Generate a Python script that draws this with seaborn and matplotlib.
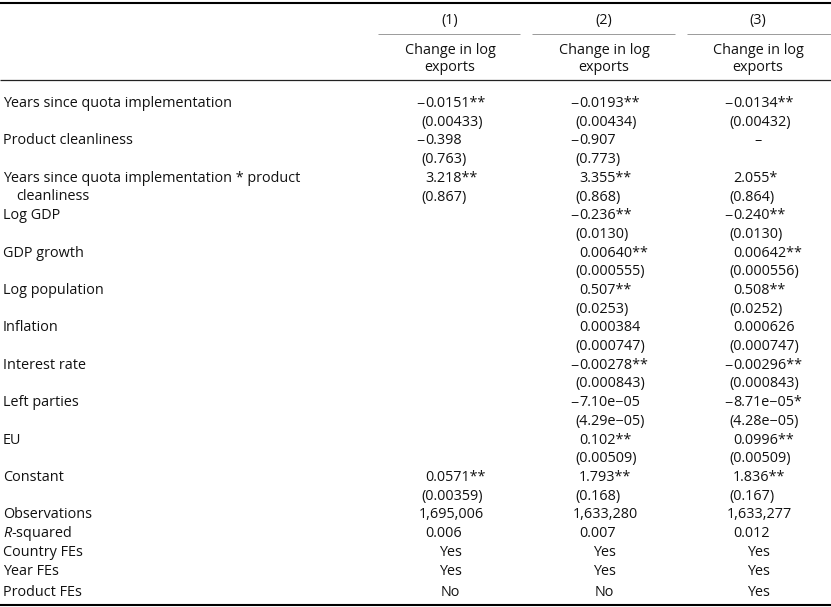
import matplotlib
matplotlib.use("Agg")
import matplotlib.pyplot as plt
import seaborn as sns

sns.set_theme(style="white")
plt.rcParams["font.family"] = ["Open Sans", "DejaVu Sans"]
plt.rcParams["mathtext.fontset"] = "custom"
plt.rcParams["mathtext.rm"] = "Open Sans"
plt.rcParams["mathtext.it"] = "Open Sans:italic"

# ---- table contents ----
model_names = ["(1)", "(2)", "(3)"]
dep_vars = ["Change in log\nexports", "Change in log\nexports", "Change in log\nexports"]

variables = [
    "Years since quota implementation",
    "Product cleanliness",
    "Years since quota implementation * product\ncleanliness",
    "Log GDP",
    "GDP growth",
    "Log population",
    "Inflation",
    "Interest rate",
    "Left parties",
    "EU",
    "Constant",
]
coef_1 = ["−0.0151**", "−0.398", "3.218**", "", "", "", "", "", "", "", "0.0571**"]
se_1 = ["(0.00433)", "(0.763)", "(0.867)", "", "", "", "", "", "", "", "(0.00359)"]
coef_2 = ["−0.0193**", "−0.907", "3.355**", "−0.236**", "0.00640**", "0.507**",
          "0.000384", "−0.00278**", "−7.10e−05", "0.102**", "1.793**"]
se_2 = ["(0.00434)", "(0.773)", "(0.868)", "(0.0130)", "(0.000555)", "(0.0253)",
        "(0.000747)", "(0.000843)", "(4.29e−05)", "(0.00509)", "(0.168)"]
coef_3 = ["−0.0134**", "–", "2.055*", "−0.240**", "0.00642**", "0.508**",
          "0.000626", "−0.00296**", "−8.71e−05*", "0.0996**", "1.836**"]
se_3 = ["(0.00432)", "", "(0.864)", "(0.0130)", "(0.000556)", "(0.0252)",
        "(0.000747)", "(0.000843)", "(4.28e−05)", "(0.00509)", "(0.167)"]

observations = ["1,695,006", "1,633,280", "1,633,277"]
r_squared = ["0.006", "0.007", "0.012"]
fe_labels = ["Country FEs", "Year FEs", "Product FEs"]
country_fe = ["Yes", "Yes", "Yes"]
year_fe = ["Yes", "Yes", "Yes"]
product_fe = ["No", "No", "Yes"]

coefs = [coef_1, coef_2, coef_3]
ses = [se_1, se_2, se_3]

# ---- layout (pixel coordinates) ----
W, H = 831, 607
col_x = [450, 604, 758]
col_span = [(378, 520), (532, 675), (687, 831)]
fs = 10.4
step = 18.7
first_row = 102
base_off = 5.0
ink = "#111111"

fig = plt.figure(figsize=(W / 100, H / 100), dpi=100)
ax = fig.add_axes([0, 0, 1, 1])
ax.set_xlim(0, W)
ax.set_ylim(H, 0)
ax.axis("off")


def put(x, y, s, ha="left"):
    ax.text(x, y + base_off, s, ha=ha, va="baseline", fontsize=fs, color=ink)


def put_num(cx, y, s):
    if s == "":
        return
    if s == "–":
        put(cx, y, s, ha="center")
        return
    if s.startswith("−"):
        put(cx - 25, y, "−", ha="right")
        put(cx - 25, y, s[1:])
    elif s.startswith("("):
        put(cx - 29, y, s)
    else:
        put(cx - 25, y, s)


# rules
ax.hlines(2.5, 0, W, color="black", lw=1.5)
ax.hlines(80, 0, W, color="#222222", lw=0.9)
ax.hlines(605, 0, W, color="black", lw=1.5)
for x0, x1 in col_span:
    ax.hlines(34, x0, x1, color="#9a9a9a", lw=0.7)

# header
for i, cx in enumerate(col_x):
    put(cx, 19, model_names[i], ha="center")
    l1, l2 = dep_vars[i].split("\n")
    put(cx, 49, l1, ha="center")
    put(cx, 66, l2, ha="center")

# coefficient rows
for k, name in enumerate(variables):
    y = first_row + 2 * k * step
    lines = name.split("\n")
    put(3, y, lines[0])
    for j, extra in enumerate(lines[1:], start=1):
        put(16, y + j * step, extra)
    for i, cx in enumerate(col_x):
        put_num(cx, y, coefs[i][k])
        put_num(cx, y + step, ses[i][k])

# statistics rows
y = first_row + 2 * len(variables) * step
put(3, y, "Observations")
for i, cx in enumerate(col_x):
    put(cx - 31, y, observations[i])
y += step
put(3, y, "$R$-squared")
for i, cx in enumerate(col_x):
    put(cx - 25, y, r_squared[i])

fe_values = [country_fe, year_fe, product_fe]
for r, lab in enumerate(fe_labels):
    y += step
    if r == len(fe_labels) - 1:
        y += 3
    put(3, y, lab)
    for i, cx in enumerate(col_x):
        put(cx, y, fe_values[r][i], ha="center")

fig.savefig("out.png", dpi=100)
